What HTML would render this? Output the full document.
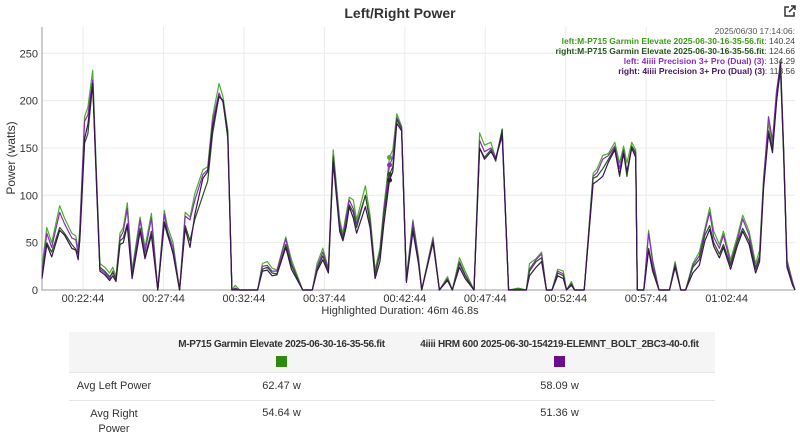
<!DOCTYPE html>
<html><head><meta charset="utf-8">
<style>
body{margin:0;width:800px;height:440px;background:#fff;font-family:"Liberation Sans",sans-serif;overflow:hidden;position:relative}
.t{position:absolute}
table{position:absolute;left:69px;top:332px;width:646px;border-collapse:collapse;font-size:11px;color:#333;table-layout:fixed}
th{background:#f5f5f5;font-weight:bold;height:40px;vertical-align:top;padding:7px 0 0 0;font-size:10px;letter-spacing:-0.3px;white-space:nowrap;box-sizing:border-box}
td{text-align:center;border-top:1px solid #e6e6e6;height:27px;padding:0}
.sq{display:inline-block;width:11px;height:11px;margin-top:6px}
</style></head><body>
<div class="t" style="left:0;width:800px;top:5px;text-align:center;font-weight:bold;font-size:14px;color:#333">Left/Right Power</div>
<svg class="t" style="left:783px;top:5px" width="13" height="13" viewBox="0 0 13 13"><path d="M6 2H2v9h9V7" fill="none" stroke="#333" stroke-width="1.5"/><path d="M6 7l6-6M8 1h4v4" fill="none" stroke="#333" stroke-width="1.5"/></svg>
<svg id="chart" class="t" style="left:0;top:0" width="800" height="320"></svg>
<div class="t" style="left:0;width:800px;top:305px;text-align:center;font-size:11px;color:#333">Highlighted Duration: 46m 46.8s</div>
<table>
<colgroup><col style="width:90px"><col style="width:245px"><col style="width:311px"></colgroup>
<tr><th></th>
<th>M-P715 Garmin Elevate 2025-06-30-16-35-56.fit<br><span class="sq" style="background:#2e8b10"></span></th>
<th>4iiii HRM 600 2025-06-30-154219-ELEMNT_BOLT_2BC3-40-0.fit<br><span class="sq" style="background:#6a0d8e"></span></th></tr>
<tr><td>Avg Left Power</td><td>62.47 w</td><td>58.09 w</td></tr>
<tr><td style="vertical-align:top;padding-top:6px;line-height:15px">Avg Right<br>Power</td><td style="vertical-align:top;padding-top:6px">54.64 w</td><td style="vertical-align:top;padding-top:6px">51.36 w</td></tr>
</table>
<script>
const times=[0,0.3,0.6,1.1,1.4,1.85,2.1,2.25,2.35,2.65,2.85,3.15,3.4,3.6,3.9,4.2,4.4,4.6,4.85,5.05,5.3,5.6,6.1,6.4,6.8,7.2,7.6,7.8,8.15,8.55,8.9,9.2,9.5,10.0,10.3,10.6,11.0,11.25,11.55,11.8,12.0,12.3,13.4,13.7,14.0,14.3,14.6,15.15,15.5,16.2,16.8,17.1,17.45,17.8,18.1,18.5,18.7,18.9,19.1,19.35,19.55,20.1,20.4,20.7,21.0,21.25,21.6,21.8,22.05,22.35,22.65,23.05,23.4,23.6,24.3,24.7,25.2,25.5,25.95,26.3,26.85,27.2,27.5,27.9,28.2,28.6,29.0,29.6,30.1,30.3,30.7,31.05,31.35,31.7,32.05,32.4,32.6,32.9,33.1,33.7,34.25,34.5,34.85,35.2,35.6,35.9,36.15,36.35,36.65,36.9,37.0,37.4,37.7,37.95,38.35,39.0,39.35,39.7,40.0,40.45,40.85,41.2,41.5,41.75,42.1,42.35,42.8,43.2,43.55,43.95,44.35,44.6,44.85,45.15,45.4,45.65,45.9,46.1,46.3,46.65,46.8];
const leftGarmin=[24,66,50,89,76,60,57,42,66,183,193,232,116,28,24,18,24,14,60,66,92,21,77,45,81,0,84,67,50,0,82,77,102,127,130,183,218,204,169,0,5,0,0,28,30,23,21,56,32,0,0,28,44,23,148,74,60,80,98,95,74,110,78,21,44,88,140,148,186,173,13,74,35,0,56,0,14,0,34,20,0,166,153,156,139,169,0,2,0,28,33,40,0,0,22,20,0,9,0,0,123,128,142,144,156,134,152,134,156,148,0,0,63,32,0,0,30,0,0,28,40,65,87,62,48,62,32,56,79,62,28,42,119,176,153,204,243,148,32,9,0];
const rightGarmin=[15,50,40,66,60,48,43,38,52,155,165,218,110,24,20,14,18,12,52,55,70,15,65,35,62,0,70,58,40,0,68,52,75,100,115,165,205,200,160,0,1,0,0,22,24,18,17,48,26,0,0,22,36,20,140,65,55,70,90,82,66,100,70,16,38,80,122,130,180,170,10,66,30,0,52,0,11,0,28,15,0,150,140,148,136,170,0,1,0,20,30,34,0,0,18,15,0,6,0,0,118,120,128,138,150,120,146,120,152,145,0,0,44,24,0,0,26,0,0,24,32,58,68,50,38,48,26,50,65,52,22,34,112,168,150,200,232,140,26,6,0];
const left4iiii=[18,60,45,82,70,55,53,38,62,178,185,222,112,22,18,12,20,10,55,62,86,17,74,40,76,0,80,62,45,0,78,74,95,122,127,178,208,198,162,0,2,0,0,25,26,20,20,54,28,0,0,24,40,22,142,70,56,76,95,86,70,100,72,18,40,84,132,140,182,172,10,72,32,0,54,0,12,0,30,16,0,158,146,150,140,162,0,0,0,22,32,38,0,0,20,17,0,7,0,0,120,124,138,142,152,128,148,122,150,142,0,0,60,30,0,0,28,0,0,26,36,62,82,56,44,58,28,52,75,58,24,36,115,183,158,210,238,142,30,8,0];
const right4iiii=[12,48,35,63,58,44,42,32,55,160,175,218,105,20,16,10,15,9,48,50,68,12,62,33,58,0,72,60,38,0,65,45,80,118,125,172,204,200,165,0,0,0,0,20,21,15,16,45,22,0,0,20,32,18,135,62,52,66,88,76,60,88,65,12,30,70,116,125,176,168,8,62,28,0,50,0,10,0,24,12,0,150,138,146,138,165,0,0,0,15,24,30,0,0,15,12,0,5,0,0,112,115,120,135,148,122,144,125,150,140,0,0,42,20,0,0,24,0,0,18,26,52,64,46,34,45,22,46,62,48,18,30,108,165,145,198,240,146,24,5,0];
const yTicks=[0,50,100,150,200,250];
const xTickLabels=["00:22:44","00:27:44","00:32:44","00:37:44","00:42:44","00:47:44","00:52:44","00:57:44","01:02:44"];
const xTickTimes=[2.55,7.55,12.55,17.55,22.55,27.55,32.55,37.55,42.55];
const legendLabels=["2025/06/30 17:14:06:","left:M-P715 Garmin Elevate 2025-06-30-16-35-56.fit","right:M-P715 Garmin Elevate 2025-06-30-16-35-56.fit","left: 4iiii Precision 3+ Pro (Dual) (3)","right: 4iiii Precision 3+ Pro (Dual) (3)"];
const legendValues=["","140.24","124.66","134.29","118.56"];
const hoverTime=21.6;

const NS="http://www.w3.org/2000/svg",svg=document.getElementById('chart');
const X0=42,X1=795,Y0=290,TOP=27,TMAX=46.8;
const xs=t=>X0+(X1-X0)*t/TMAX, ys=v=>Y0-v*0.947;
function mk(tag,a){const e=document.createElementNS(NS,tag);for(const k in a)e.setAttribute(k,a[k]);svg.appendChild(e);return e;}
yTicks.forEach(v=>{
 const g=mk('line',{x1:X0,x2:X1,y1:ys(v),y2:ys(v),stroke:'#ececec'});
 
 
 const l=mk('text',{x:38,y:ys(v)+4,'text-anchor':'end','font-size':11,fill:'#333'});l.textContent=v;
 
 
});
xTickTimes.forEach((t,i)=>{
 const g=mk('line',{x1:xs(t),x2:xs(t),y1:TOP,y2:Y0,stroke:'#ececec'});
 
 
 const l=mk('text',{x:xs(t),y:302,'text-anchor':'middle','font-size':11,fill:'#333'});l.textContent=xTickLabels[i];
 
 
});
const ax=mk('path',{d:`M${X0},${TOP}V${Y0}H${X1}`,fill:'none',stroke:'#999'});


const yt=mk('text',{x:0,y:0,transform:`translate(15,158) rotate(-90)`,'text-anchor':'middle','font-size':12,fill:'#333'});yt.textContent='Power (watts)';


const series=[[leftGarmin,'#4cae2a','left-garmin-line'],[left4iiii,'#8a2bc2','left-4iiii-line'],[rightGarmin,'#22551a','right-garmin-line'],[right4iiii,'#3a1350','right-4iiii-line']];
series.forEach(([vals,c,n])=>{
 const d=vals.map((v,i)=>(i?'L':'M')+xs(times[i]).toFixed(1)+','+ys(v).toFixed(1)).join('');
 const p=mk('path',{d,fill:'none',stroke:c,'stroke-width':1.2,'stroke-linejoin':'round'});
 
 
 const hi=times.indexOf(hoverTime);
 const dot=mk('circle',{cx:xs(hoverTime),cy:ys(vals[hi]),r:2.5,fill:c});
 
 
});
const lc=['#555','#3a9e1a','#22551a','#8a2bc2','#4a1460'];
legendLabels.forEach((s,i)=>{
 const t=mk('text',{x:795,y:34+i*10,'text-anchor':'end','font-size':8.5});
 
 
 const a=document.createElementNS(NS,'tspan');a.setAttribute('fill',lc[i]);if(i)a.setAttribute('font-weight','bold');a.textContent=s;t.appendChild(a);
 if(legendValues[i]){const b=document.createElementNS(NS,'tspan');b.setAttribute('fill','#444');b.textContent=': '+legendValues[i];t.appendChild(b);}
});
</script>
</body></html>
